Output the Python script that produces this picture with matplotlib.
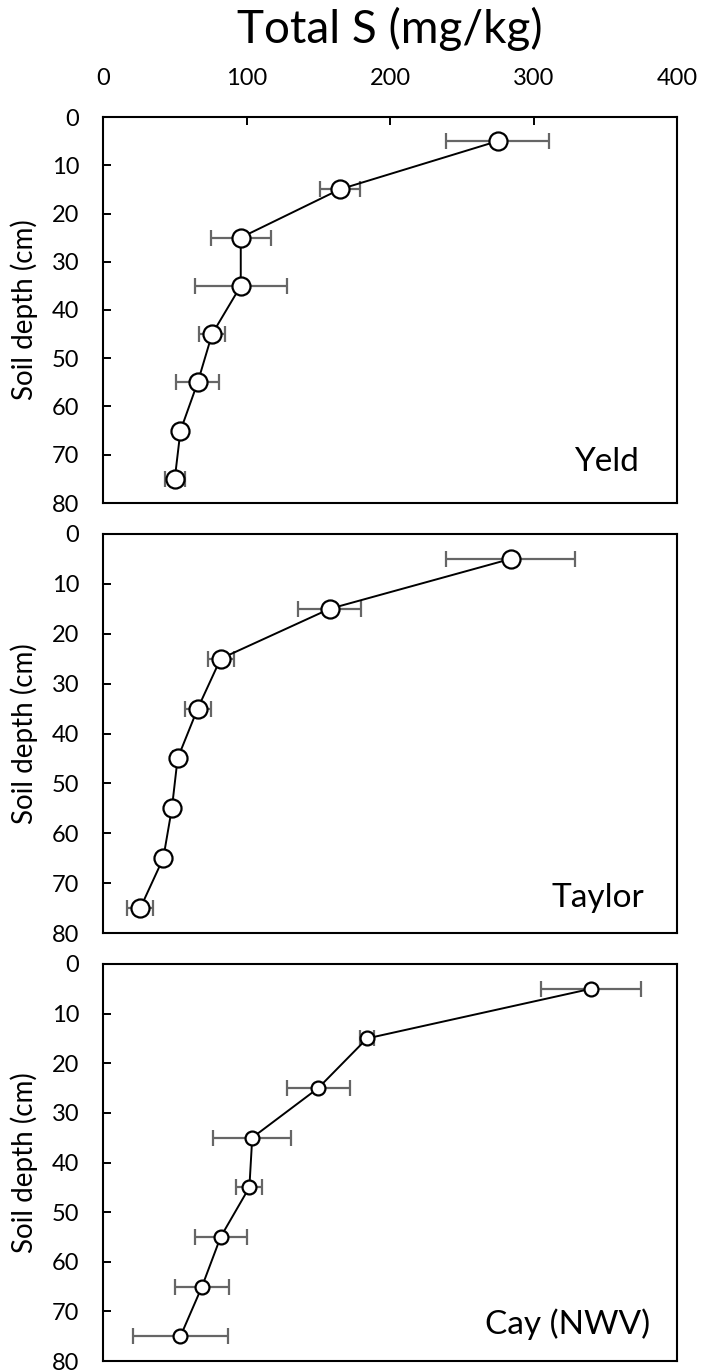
import matplotlib
matplotlib.use("Agg")
import matplotlib.pyplot as plt

plt.rcParams['font.family'] = ['Lato', 'DejaVu Sans']

# soil depth (cm), midpoints of 10 cm layers
depth = [5, 15, 25, 35, 45, 55, 65, 75]

# total S (mg/kg) and error (+/-) per site
yeld_s = [275, 165, 96, 96, 76, 66, 54, 50]
yeld_err = [36, 14, 21, 32, 9, 15, 3, 7]

taylor_s = [284, 158, 82, 66, 52, 48, 42, 26]
taylor_err = [45, 22, 9, 9, 3, 3, 3, 9]

cay_s = [340, 184, 150, 104, 102, 82, 69, 54]
cay_err = [35, 5, 22, 27, 9, 18, 19, 33]

site_names = ['Yeld', 'Taylor', 'Cay (NWV)']
xticks = [0, 100, 200, 300, 400]
yticks = [0, 10, 20, 30, 40, 50, 60, 70, 80]

W, H = 704, 1372
fig = plt.figure(figsize=(W / 100, H / 100), dpi=100)

# panel boxes in pixels: (top, bottom)
boxes = [(117, 503), (534, 933), (964, 1361)]
left_px, right_px = 103, 677
msizes = [13, 13, 10]
label_x = [0.933, 0.943, 0.953]
label_y = [0.082, 0.066, 0.067]

series = [(yeld_s, yeld_err), (taylor_s, taylor_err), (cay_s, cay_err)]

for i, ((vals, errs), name) in enumerate(zip(series, site_names)):
    top, bot = boxes[i]
    ax = fig.add_axes([left_px / W, 1 - bot / H, (right_px - left_px) / W, (bot - top) / H])

    ax.errorbar(vals, depth, xerr=errs, fmt='none', ecolor='#666666',
                elinewidth=1.6, capsize=6, capthick=1.6, zorder=1)
    ax.plot(vals, depth, '-o', color='black', lw=1.4, ms=msizes[i],
            mfc='white', mec='black', mew=1.6, zorder=3)

    ax.set_xlim(0, 400)
    ax.set_ylim(80, 0)
    ax.set_yticks(yticks)
    ax.tick_params(axis='y', direction='in', length=6, width=1.4,
                   labelsize=17, pad=17)
    if i == 0:
        ax.xaxis.tick_top()
        ax.set_xticks(xticks)
        ax.tick_params(axis='x', direction='in', length=5.5, width=1.4,
                       labelsize=17, pad=20)
    else:
        ax.tick_params(axis='x', top=False, bottom=False,
                       labeltop=False, labelbottom=False)

    for sp in ax.spines.values():
        sp.set_linewidth(1.5)

    ax.set_ylabel('Soil depth (cm)', fontsize=20)
    ax.yaxis.set_label_coords(-0.113, 0.5)

    ax.text(label_x[i], label_y[i], name, transform=ax.transAxes,
            ha='right', va='baseline', fontsize=24)

fig.text(390 / W, 1 - 43 / H, 'Total S (mg/kg)', ha='center',
         va='baseline', fontsize=33)

fig.savefig('out.png', dpi=100)
